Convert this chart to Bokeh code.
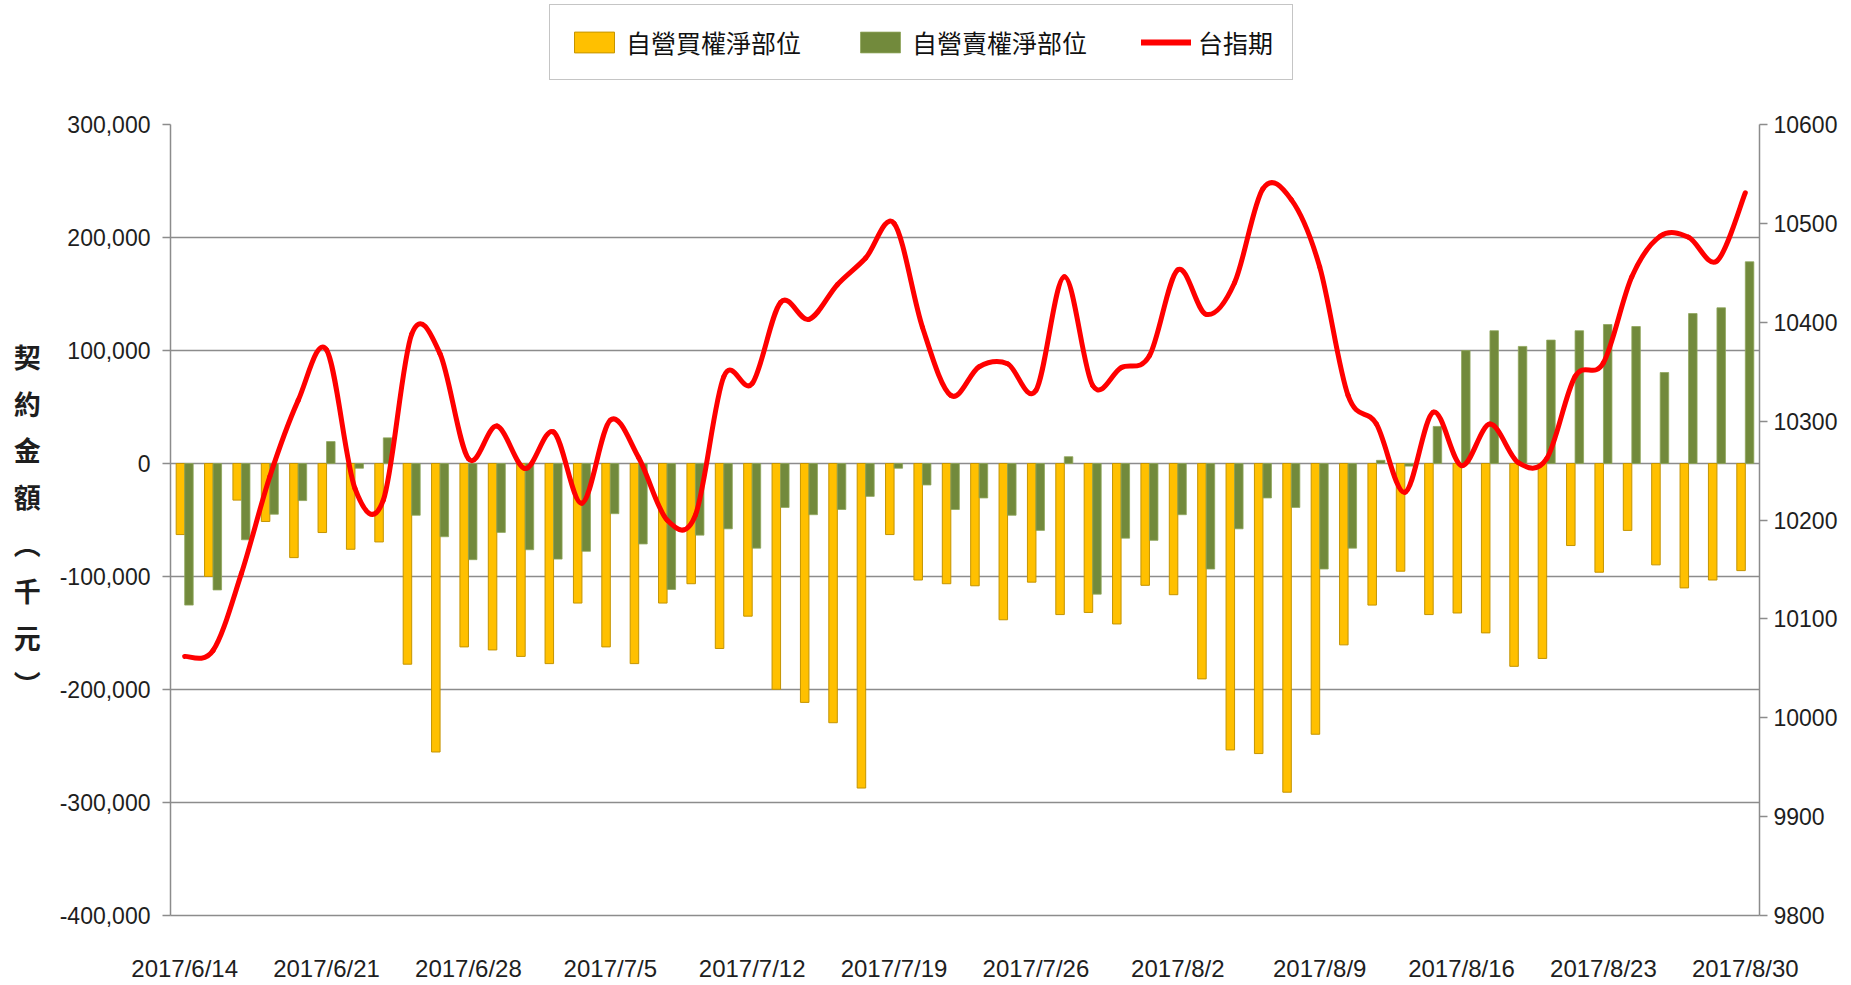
from bokeh.plotting import figure
from bokeh.layouts import column
from bokeh.models import (Range1d, LinearAxis, FixedTicker, NumeralTickFormatter,
                          Legend, LegendItem, ColumnDataSource)
from bokeh.transform import dodge
from bokeh.embed import file_html
from bokeh.resources import INLINE

# ---------------- data ----------------
dates = [
    "2017/6/14", "2017/6/15", "2017/6/16", "2017/6/19", "2017/6/20", "2017/6/21",
    "2017/6/22", "2017/6/23", "2017/6/26", "2017/6/27", "2017/6/28", "2017/6/29",
    "2017/6/30", "2017/7/3", "2017/7/4", "2017/7/5", "2017/7/6", "2017/7/7",
    "2017/7/10", "2017/7/11", "2017/7/12", "2017/7/13", "2017/7/14", "2017/7/17",
    "2017/7/18", "2017/7/19", "2017/7/20", "2017/7/21", "2017/7/24", "2017/7/25",
    "2017/7/26", "2017/7/27", "2017/7/28", "2017/7/31", "2017/8/1", "2017/8/2",
    "2017/8/3", "2017/8/4", "2017/8/7", "2017/8/8", "2017/8/9", "2017/8/10",
    "2017/8/11", "2017/8/14", "2017/8/15", "2017/8/16", "2017/8/17", "2017/8/18",
    "2017/8/21", "2017/8/22", "2017/8/23", "2017/8/24", "2017/8/25", "2017/8/28",
    "2017/8/29", "2017/8/30",
]

# 自營買權淨部位 (千元)
buy_call_net = [
    -62900, -99900, -32400, -51300, -83300, -61100, -75900, -69400, -177600, -255300,
    -162300, -165000, -170700, -177100, -123500, -162300, -177100, -123500, -106400, -163700,
    -135100, -199800, -211400, -229400, -287200, -62900, -103100, -106400, -108200, -138300,
    -105000, -133700, -131800, -142000, -107800, -116100, -190600, -253500, -256700, -290900,
    -239600, -160500, -125300, -95300, -133700, -132300, -149900, -179500, -172500, -72600,
    -96200, -59200, -89700, -110100, -103100, -94800,
]

# 自營賣權淨部位 (千元)
sell_put_net = [
    -125300, -111900, -67500, -44900, -32800, 19400, -4200, 22700, -45800, -64800,
    -85100, -61000, -76300, -84600, -77700, -44400, -71200, -111500, -63400, -57800,
    -74900, -38900, -45300, -40700, -29100, -4200, -19000, -40700, -30500, -45800,
    -59200, 6000, -115600, -66100, -68000, -45300, -93400, -57800, -30500, -38900,
    -93400, -74900, 2800, -2300, 32800, 99900, 117500, 103600, 109200, 117500,
    123000, 121200, 80500, 132700, 137800, 178500,
]

# 台指期
taiex_fut = [
    10062, 10068, 10146, 10244, 10321, 10372, 10232, 10220, 10388, 10368,
    10262, 10295, 10252, 10289, 10217, 10301, 10263, 10200, 10205, 10345,
    10338, 10420, 10403, 10438, 10465, 10500, 10395, 10326, 10355, 10358,
    10331, 10446, 10336, 10354, 10366, 10453, 10408, 10440, 10535, 10524,
    10456, 10326, 10297, 10228, 10309, 10255, 10297, 10258, 10262, 10345,
    10359, 10446, 10487, 10486, 10462, 10531,
]

left_ticks = [-400000, -300000, -200000, -100000, 0, 100000, 200000, 300000]
right_ticks = [9800, 9900, 10000, 10100, 10200, 10300, 10400, 10500, 10600]
label_step = 5

series_names = ["自營買權淨部位", "自營賣權淨部位", "台指期"]
axis_title = "契\n約\n金\n額\n︵\n千\n元\n︶"

# ---------------- styles ----------------
GRID = "#8c8c8c"
TXT = "#1e1e1e"
YELLOW, YELLOW_EDGE = "#FFC000", "#C49400"
GREEN, GREEN_EDGE = "#728A3C", "#8FA65C"
RED = "#FF0000"

n = len(dates)
idx = list(range(n))
src = ColumnDataSource(dict(i=idx, buy=buy_call_net, sell=sell_put_net,
                            fut=taiex_fut, date=dates))

# ---------------- main chart ----------------
p = figure(width=1851, height=877,
           x_range=Range1d(-0.5, n - 0.5),
           y_range=Range1d(left_ticks[0], left_ticks[-1]),
           output_backend="svg", toolbar_location=None,
           min_border_left=170, min_border_right=92,
           min_border_top=16, min_border_bottom=70,
           background_fill_color="white", border_fill_color="white")
p.outline_line_color = None
p.extra_y_ranges = {"right": Range1d(right_ticks[0], right_ticks[-1])}

# grid
p.xgrid.visible = False
p.ygrid.ticker = FixedTicker(ticks=left_ticks)
p.ygrid.grid_line_color = GRID
p.ygrid.grid_line_width = 1.5

# x axis
xa = p.xaxis[0]
xa.ticker = FixedTicker(ticks=idx[::label_step])
xa.major_label_overrides = {i: dates[i] for i in idx[::label_step]}
xa.major_tick_out = 0
xa.major_tick_in = 0
xa.minor_tick_out = 0
xa.minor_tick_in = 0
xa.axis_line_color = GRID
xa.axis_line_width = 1.5
xa.major_label_text_font = "Liberation Sans"
xa.major_label_text_font_size = "24px"
xa.major_label_text_color = TXT
xa.major_label_standoff = 39

# left axis
ya = p.yaxis[0]
ya.ticker = FixedTicker(ticks=left_ticks)
ya.formatter = NumeralTickFormatter(format="0,0")
ya.major_tick_out = 8
ya.major_tick_in = 0
ya.minor_tick_out = 0
ya.minor_tick_in = 0
ya.axis_line_color = GRID
ya.axis_line_width = 1.5
ya.major_tick_line_color = GRID
ya.major_tick_line_width = 1.5
ya.major_label_text_font = "Liberation Sans"
ya.major_label_text_font_size = "23px"
ya.major_label_text_color = TXT
ya.major_label_standoff = 12
ya.axis_label = axis_title
ya.axis_label_orientation = "horizontal"
ya.axis_label_text_font = "Noto Sans CJK TC"
ya.axis_label_text_font_size = "27px"
ya.axis_label_text_font_style = "bold"
ya.axis_label_text_color = TXT
ya.axis_label_text_line_height = 1.2
ya.axis_label_standoff = 16

# right axis
ra = LinearAxis(y_range_name="right", ticker=FixedTicker(ticks=right_ticks))
ra.formatter = NumeralTickFormatter(format="0")
ra.major_tick_out = 8
ra.major_tick_in = 0
ra.minor_tick_out = 0
ra.minor_tick_in = 0
ra.axis_line_color = GRID
ra.axis_line_width = 1.5
ra.major_tick_line_color = GRID
ra.major_tick_line_width = 1.5
ra.major_label_text_font = "Liberation Sans"
ra.major_label_text_font_size = "23px"
ra.major_label_text_color = TXT
ra.major_label_standoff = 6
p.add_layout(ra, "right")

# bars
bw = 0.3
bar_buy = dict(fill_color=YELLOW, line_color=YELLOW_EDGE, line_width=1)
bar_sell = dict(fill_color=GREEN, line_color=GREEN_EDGE, line_width=0.8)
p.vbar(x=dodge("i", -bw / 2, range=p.x_range), top="buy", bottom=0, width=bw,
       source=src, **bar_buy)
p.vbar(x=dodge("i", bw / 2, range=p.x_range), top="sell", bottom=0, width=bw,
       source=src, **bar_sell)

# smoothed line (Excel-style smoothing: cubic Bezier through each pair of points)
bx0, by0, bx1, by1, cx0, cy0, cx1, cy1 = [], [], [], [], [], [], [], []
for k in range(n - 1):
    a = k - 1 if k > 0 else k
    d = k + 2 if k + 2 < n else k + 1
    bx0.append(idx[k]); by0.append(taiex_fut[k])
    bx1.append(idx[k + 1]); by1.append(taiex_fut[k + 1])
    cx0.append(idx[k] + (idx[k + 1] - idx[a]) / 6.0)
    cy0.append(taiex_fut[k] + (taiex_fut[k + 1] - taiex_fut[a]) / 6.0)
    cx1.append(idx[k + 1] - (idx[d] - idx[k]) / 6.0)
    cy1.append(taiex_fut[k + 1] - (taiex_fut[d] - taiex_fut[k]) / 6.0)
bsrc = ColumnDataSource(dict(x0=bx0, y0=by0, x1=bx1, y1=by1,
                             cx0=cx0, cy0=cy0, cx1=cx1, cy1=cy1))
p.bezier(x0="x0", y0="y0", x1="x1", y1="y1", cx0="cx0", cy0="cy0",
         cx1="cx1", cy1="cy1", source=bsrc, y_range_name="right",
         line_color=RED, line_width=5, line_cap="round")

# ---------------- legend strip (top) ----------------
# The strip's key renderers use the same series; its ranges squeeze them into the
# area covered by the opaque legend box, so only the legend swatches are seen.
lf = figure(width=1851, height=108, x_range=Range1d(-38, 101),
            y_range=Range1d(-884000, 491000),
            x_axis_type=None, y_axis_type=None,
            output_backend="svg", toolbar_location=None,
            min_border_left=0, min_border_right=0, min_border_top=0, min_border_bottom=0,
            background_fill_color="white", border_fill_color="white")
lf.outline_line_color = None
lf.xgrid.visible = False
lf.ygrid.visible = False
lf.extra_y_ranges = {"right": Range1d(9247, 10818)}
k_buy = lf.vbar(x="i", top="buy", bottom=0, width=bw, source=src, **bar_buy)
k_sell = lf.vbar(x="i", top="sell", bottom=0, width=bw, source=src, **bar_sell)
k_line = lf.line(x="i", y="fut", source=src, y_range_name="right",
                 line_color=RED, line_width=6, line_cap="round")

legend = Legend(items=[LegendItem(label=series_names[0], renderers=[k_buy]),
                       LegendItem(label=series_names[1], renderers=[k_sell]),
                       LegendItem(label=series_names[2], renderers=[k_line])],
                orientation="horizontal", location=(379, 28),
                border_line_color=GRID, border_line_width=1.5,
                background_fill_color="white", background_fill_alpha=1.0,
                padding=19, spacing=54, margin=0,
                glyph_width=50, glyph_height=26, label_standoff=7,
                label_text_font="Noto Sans CJK TC", label_text_font_size="25px",
                label_text_color="#111111")
lf.add_layout(legend, "center")

layout = column(lf, p, spacing=0)
open("out.html", "w").write(file_html(layout, INLINE))
